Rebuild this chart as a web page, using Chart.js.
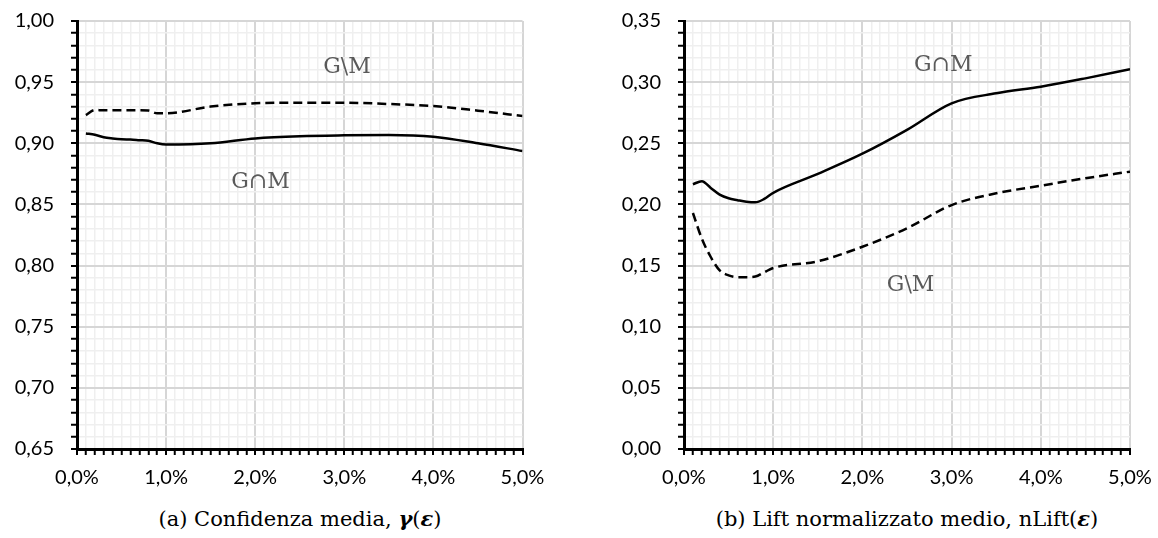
<!DOCTYPE html>
<html><head><meta charset="utf-8">
<script src="https://cdn.jsdelivr.net/npm/chart.js@4/dist/chart.umd.min.js"></script>
<style>
html,body{margin:0;padding:0;background:#fff;width:1158px;height:538px;overflow:hidden;position:relative}
canvas{position:absolute;top:0}
#c1{left:0}
#c2{left:579px}
.cap{position:absolute;top:508px;font-family:"DejaVu Serif";font-size:21px;line-height:1;color:#000;white-space:nowrap;transform:translateX(-50%)}
</style></head><body>
<canvas id="c1" width="579" height="495"></canvas>
<canvas id="c2" width="579" height="495"></canvas>
<div class="cap" style="left:300px">(a) Confidenza media, <b><i>γ</i></b>(<b><i>ε</i></b>)</div>
<div class="cap" style="left:907px">(b) Lift normalizzato medio, nLift(<b><i>ε</i></b>)</div>
<script>
// epsilon (%)
const xPct = [0.1,0.2,0.3,0.4,0.5,0.6,0.7,0.8,0.9,1.0,1.5,2.0,2.5,3.0,3.5,4.0,4.5,5.0];
// (a) Confidenza media
const confGandM   = [0.908,0.907,0.905,0.904,0.9033,0.903,0.9025,0.902,0.900,0.899,0.900,0.904,0.9058,0.9065,0.9068,0.9054,0.900,0.8937];
const confGminusM = [0.923,0.9272,0.927,0.927,0.927,0.927,0.927,0.9268,0.9245,0.9245,0.930,0.9327,0.9332,0.9332,0.9321,0.9305,0.9267,0.9223];
// (b) Lift normalizzato medio
const liftGandM   = [0.2165,0.219,0.2135,0.208,0.205,0.2035,0.2022,0.2017,0.2045,0.2095,0.225,0.2415,0.261,0.2827,0.2909,0.2963,0.3031,0.3105];
const liftGminusM = [0.193,0.172,0.157,0.146,0.142,0.1405,0.1405,0.141,0.1445,0.148,0.1535,0.1654,0.1805,0.1995,0.2091,0.2153,0.2214,0.2268];
// tick labels
const xTickLabels = ['0,0%','1,0%','2,0%','3,0%','4,0%','5,0%'];
const confYLabels = ['0,65','0,70','0,75','0,80','0,85','0,90','0,95','1,00'];
const liftYLabels = ['0,00','0,05','0,10','0,15','0,20','0,25','0,30','0,35'];
// annotations [text, x(%), y]
const confNotes = [['G\\M',3.03,0.9624],['G∩M',2.06,0.8683]];
const liftNotes = [['G∩M',2.906,0.314],['G\\M',2.54,0.1341]];

const TICK_FONT = {family:'Lato', size:20};
const isMajorX = v => Math.abs(v - Math.round(v)) < 1e-6;

function makeChart(id, solid, dashed, yMin, yLabels, yWidth, padRight, notes) {
  const yStepMajor = 0.05;
  const majorY = v => { const k = Math.round((v - yMin)/yStepMajor); return Math.abs(v - (yMin + k*yStepMajor)) < 1e-6 ? k : -1; };
  const notePlugin = {
    id: 'notes',
    afterDatasetsDraw(chart) {
      const ctx = chart.ctx, xs = chart.scales.x, ys = chart.scales.y;
      ctx.save();
      ctx.font = '22px "DejaVu Serif"';
      ctx.fillStyle = '#5a5a5a';
      ctx.textAlign = 'center';
      ctx.textBaseline = 'middle';
      notes.forEach(n => ctx.fillText(n[0], xs.getPixelForValue(n[1]), ys.getPixelForValue(n[2])));
      ctx.restore();
    }
  };
  return new Chart(document.getElementById(id), {
    type: 'line',
    data: {
      datasets: [
        {data: xPct.map((x,i)=>({x, y: solid[i]})), borderColor:'#000', borderWidth:2.5, pointRadius:0, cubicInterpolationMode:'monotone', fill:false},
        {data: xPct.map((x,i)=>({x, y: dashed[i]})), borderColor:'#000', borderWidth:2.5, borderDash:[9,5], pointRadius:0, cubicInterpolationMode:'monotone', fill:false}
      ]
    },
    options: {
      responsive:false, animation:false, devicePixelRatio:1,
      layout:{padding:{left:0, top:21, right:padRight, bottom:0}},
      plugins:{legend:{display:false}, tooltip:{enabled:false}},
      scales:{
        x:{type:'linear', min:0, max:5,
          afterFit: s => { s.height = 46; s.paddingLeft = 0; s.paddingRight = 0; },
          ticks:{stepSize:0.1, autoSkip:false, maxRotation:0, minRotation:0, padding:11, color:'#000', font:TICK_FONT,
            callback: v => isMajorX(v) ? xTickLabels[Math.round(v)] : ''},
          grid:{color: c => isMajorX(c.tick.value) ? '#d6d6d6' : '#efefef',
                lineWidth: c => isMajorX(c.tick.value) ? 2 : 1.5,
                tickColor:'#000', tickLength:6, tickWidth:2},
          border:{color:'#000', width:3}
        },
        y:{type:'linear', min:yMin, max:yMin+0.35,
          afterFit: s => { s.width = yWidth; s.paddingTop = 0; s.paddingBottom = 0; },
          ticks:{stepSize:0.01, autoSkip:false, padding:17, color:'#000', font:TICK_FONT,
            callback: v => { const k = majorY(v); return k >= 0 ? yLabels[k] : ''; }},
          grid:{color: c => majorY(c.tick.value) >= 0 ? '#d6d6d6' : '#efefef',
                lineWidth: c => majorY(c.tick.value) >= 0 ? 2 : 1.5,
                tickColor:'#000', tickLength:6, tickWidth:2},
          border:{color:'#000', width:3}
        }
      }
    },
    plugins:[notePlugin]
  });
}
makeChart('c1', confGandM, confGminusM, 0.65, confYLabels, 77, 56.5, confNotes);
makeChart('c2', liftGandM, liftGminusM, 0.00, liftYLabels, 105, 28, liftNotes);
</script>
</body></html>
